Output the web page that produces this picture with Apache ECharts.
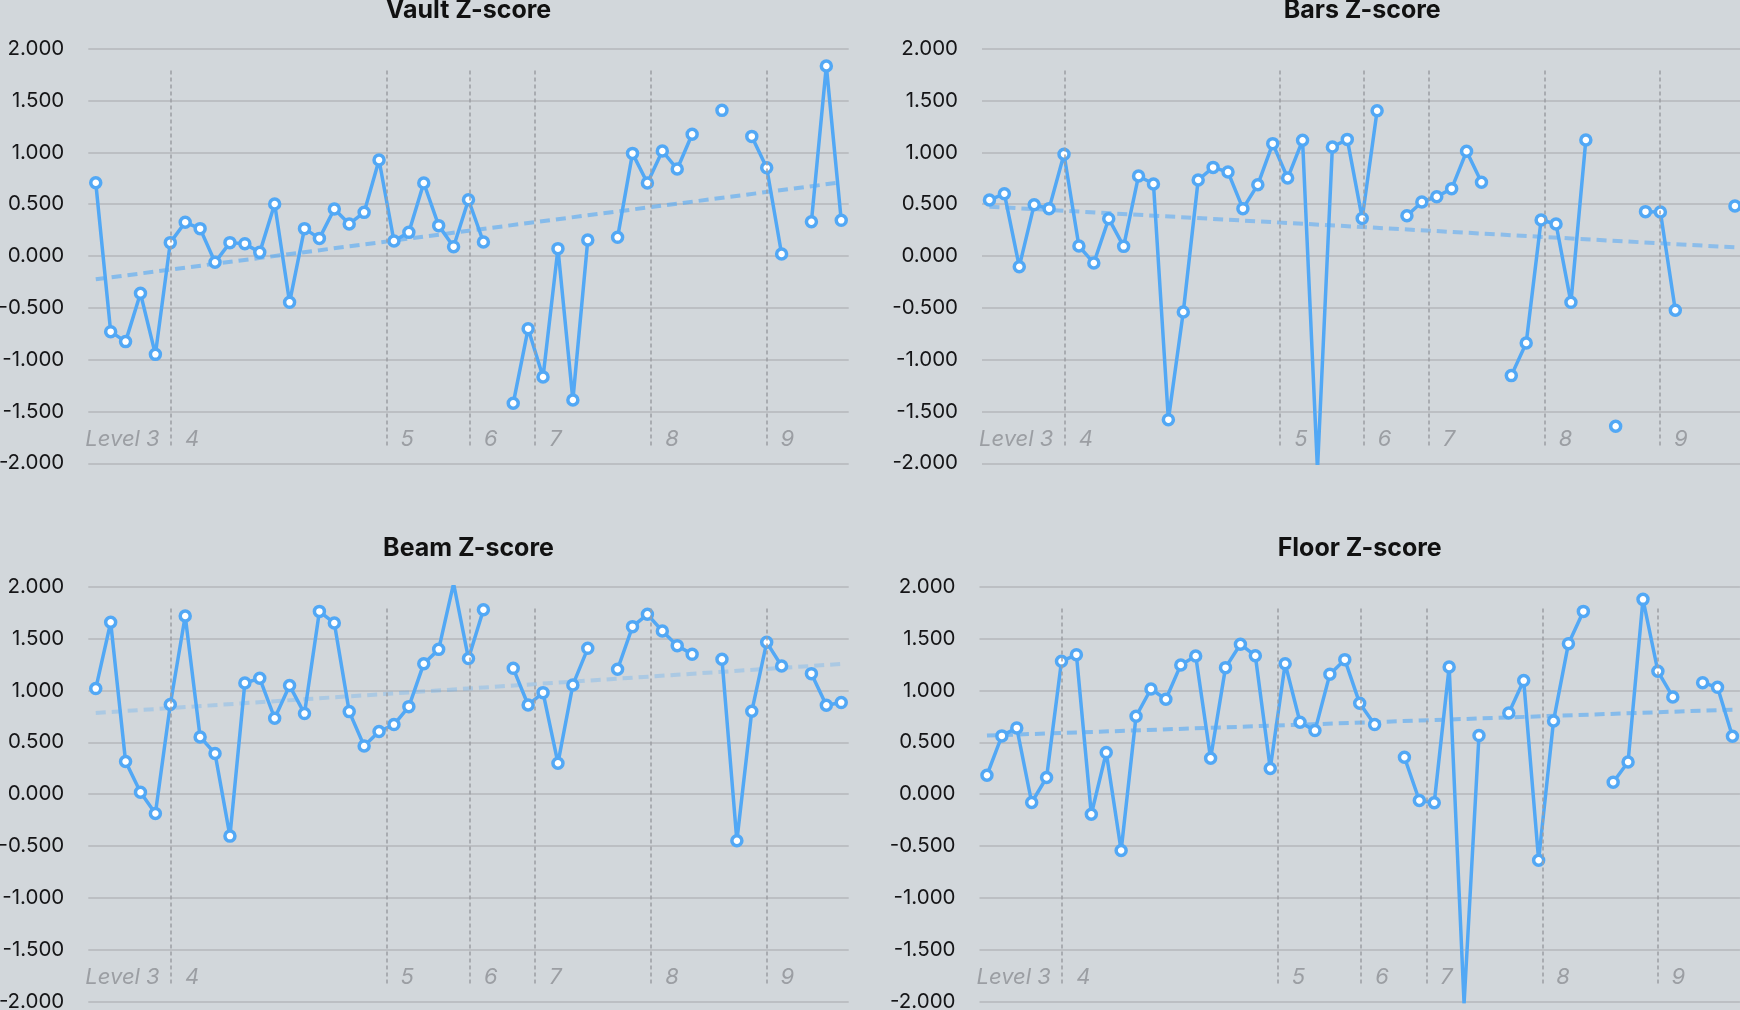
<!DOCTYPE html>
<html><head><meta charset="utf-8">
<script src="https://cdn.jsdelivr.net/npm/echarts@6/dist/echarts.min.js"></script>
<style>html,body{margin:0;padding:0;background:#d2d7db;overflow:hidden}#c{width:1740px;height:1010px}</style>
</head><body><div id="c"></div>
<script>
// ---- data ----
const vault = [0.707,-0.730,-0.826,-0.360,-0.949,0.129,0.325,0.264,-0.061,0.129,
  0.119,0.035,0.502,-0.447,0.264,0.170,0.453,0.309,0.421,0.926,
  0.145,0.228,0.704,0.293,0.090,0.543,0.135,null,-1.421,-0.701,
  -1.167,0.071,-1.389,0.154,null,0.180,0.990,0.704,1.013,0.839,
  1.174,null,1.405,null,1.154,0.852,0.019,null,0.331,1.833,0.344];
const bars = [0.540,0.601,-0.103,0.495,0.457,0.981,0.096,-0.068,0.360,0.093,
  0.772,0.695,-1.579,-0.540,0.733,0.855,0.810,0.457,0.688,1.084,
  0.752,1.116,-2.06,1.051,1.125,0.363,1.402,null,0.389,0.521,
  0.572,0.650,1.010,0.711,null,-1.154,-0.839,0.347,0.309,-0.447,
  1.119,null,-1.643,null,0.428,0.424,-0.524,null,null,null,0.482];
const beam = [1.018,1.657,0.315,0.019,-0.186,0.864,1.718,0.552,0.392,-0.404,
  1.072,1.117,0.732,1.047,0.777,1.762,1.650,0.796,0.465,0.604,
  0.671,0.844,1.258,1.396,2.03,1.307,1.778,null,1.213,0.860,
  0.979,0.299,1.053,1.406,null,1.204,1.615,1.734,1.573,1.432,
  1.348,null,1.300,-0.449,0.799,1.464,1.236,null,1.162,0.857,0.883];
const floor = [0.183,0.562,0.639,-0.080,0.161,1.281,1.345,-0.193,0.401,-0.543,
  0.751,1.014,0.915,1.246,1.332,0.347,1.220,1.445,1.335,0.247,
  1.258,0.693,0.613,1.157,1.297,0.876,0.671,null,0.356,-0.061,
  -0.083,1.226,-2.02,0.565,null,0.783,1.095,-0.636,0.706,1.451,
  1.762,null,0.116,0.311,1.878,1.185,0.937,null,1.075,1.030,0.559];
// trend lines: value at first and last meet
const vaultTrend = [-0.225, 0.711];
const barsTrend  = [0.476, 0.083];
const beamTrend  = [0.783, 1.255];
const floorTrend = [0.565, 0.815];
// level changes (position in meet index) and labels
const levelBreaks = [5.05, 19.5, 25.1, 29.47, 37.25, 44.98];
const levelLabels = ['Level 3','4','5','6','7','8','9'];
const titles = ['Vault Z-score','Bars Z-score','Beam Z-score','Floor Z-score'];
const yMin = -2, yMax = 2, yStep = 0.5;

// ---- styling / layout ----
const BLUE = '#52a8f5';
const FONT = 'Inter, "Noto Sans", sans-serif';
const panels = [
  {data: vault, trend: vaultTrend, left: 88.3, top: 48.7, height: 414.6, trendOpacity: 0.6},
  {data: bars,  trend: barsTrend,  left: 982,  top: 48.7, height: 414.6, trendOpacity: 0.55},
  {data: beam,  trend: beamTrend,  left: 88.3, top: 586.7, height: 415, trendOpacity: 0.3},
  {data: floor, trend: floorTrend, left: 979.5, top: 586.7, height: 415, trendOpacity: 0.6}
];
const GRID_W = 760.4;
const n = vault.length;
const TITLE_SIZE = 25;

const measure = (() => {
  const ctx = document.createElement('canvas').getContext('2d');
  return (t, f) => { ctx.font = f; return ctx.measureText(t).width; };
})();

const option = {
  backgroundColor: '#d2d7db',
  animation: false,
  title: [], grid: [], xAxis: [], yAxis: [], series: []
};

panels.forEach((p, i) => {
  const titleFont = 'bold ' + TITLE_SIZE + 'px ' + FONT;
  const tw = measure(titles[i], titleFont);
  option.title.push({
    text: titles[i], left: p.left + GRID_W / 2 - tw / 2, top: p.top - 50.4,
    padding: 0,
    textStyle: {fontFamily: FONT, fontSize: TITLE_SIZE, fontWeight: 'bold', color: '#111'}
  });
  option.grid.push({left: p.left, top: p.top, width: GRID_W, height: p.height,
    containLabel: false, outerBoundsMode: 'none'});
  option.xAxis.push({type: 'value', gridIndex: i, min: -0.5, max: n - 0.5, show: false, splitLine: {show: false}});
  option.yAxis.push({
    type: 'value', gridIndex: i, min: yMin, max: yMax, interval: yStep,
    axisLine: {show: false}, axisTick: {show: false},
    axisLabel: {formatter: v => v.toFixed(3), fontFamily: FONT, fontSize: 20.5, color: '#151517', margin: 24},
    splitLine: {lineStyle: {color: '#b4b7bb', width: 1.5}}
  });
  // trend + level dividers
  option.series.push({
    type: 'line', xAxisIndex: i, yAxisIndex: i, z: 1, silent: true,
    data: [[0, p.trend[0]], [n - 1, p.trend[1]]],
    symbol: 'none',
    lineStyle: {color: BLUE, opacity: p.trendOpacity, width: 4, type: [10, 6]},
    markLine: {
      silent: true, symbol: ['none', 'none'], label: {show: false},
      lineStyle: {color: '#9c9fa4', width: 1.5, type: [4, 3]},
      data: levelBreaks.map(x => [{coord: [x, 1.79]}, {coord: [x, -1.84]}])
    }
  });
  // main series
  option.series.push({
    type: 'line', xAxisIndex: i, yAxisIndex: i, z: 3,
    data: p.data.map((v, k) => [k, v == null ? '-' : v]),
    connectNulls: false, showSymbol: true, showAllSymbol: true,
    symbol: 'circle', symbolSize: 10,
    itemStyle: {color: '#fff', borderColor: BLUE, borderWidth: 3.5},
    lineStyle: {color: BLUE, width: 3.5},
    emphasis: {disabled: true}
  });
  // level labels
  option.series.push({
    type: 'scatter', xAxisIndex: i, yAxisIndex: i, z: 2, silent: true,
    symbolSize: 0,
    data: levelLabels.map((t, k) => ({
      value: [k === 0 ? -0.5 : levelBreaks[k - 1], -1.77],
      label: {distance: k === 0 ? -3 : 14}
    })),
    label: {
      show: true, position: 'right',
      formatter: q => levelLabels[q.dataIndex],
      fontFamily: FONT, fontSize: 22, fontStyle: 'italic', color: '#8d9095'
    }
  });
});

const chart = echarts.init(document.getElementById('c'), null, {renderer: 'canvas'});
chart.setOption(option);
</script></body></html>
